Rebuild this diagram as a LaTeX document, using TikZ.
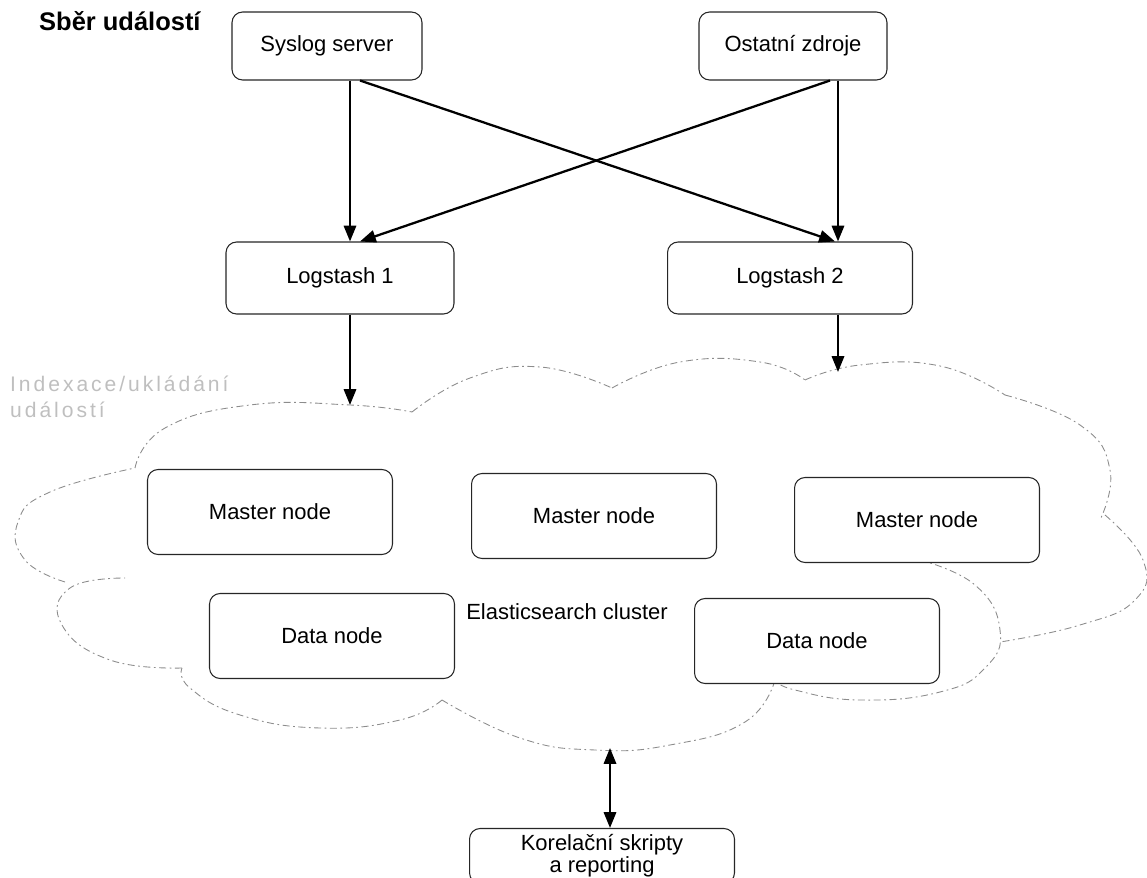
\documentclass[tikz,border=0pt]{standalone}
\usepackage{fontspec}
\setmainfont{Liberation Sans}
\newfontfamily\wideFont[LetterSpace=14]{Liberation Sans}
\usepackage{tikz}
\usetikzlibrary{calc, positioning, arrows.meta}
\tikzset{
    box/.style={rectangle, draw=black!85, line width=0.6pt, rounded corners=6pt, fill=white, align=center, minimum width=4.9cm, minimum height=1.7cm, font=\fontsize{12.5}{14}\selectfont},
    arrow/.style={-{Triangle[length=9pt, width=7pt]}, line width=1.3pt},
    darrow/.style={{Triangle[length=9pt, width=7pt]}-{Triangle[length=9pt, width=7pt]}, line width=1.3pt},
    cloudLine/.style={draw=black!45, line width=0.5pt, dash pattern=on 4pt off 2pt on 1pt off 2pt},
    heading/.style={font=\fontsize{14.5}{17}\selectfont\bfseries},
    faint/.style={text=black!25, align=left, font=\wideFont\fontsize{12}{14.5}\selectfont},
    plain/.style={font=\fontsize{12.5}{14}\selectfont}
}

\begin{document}
\begin{tikzpicture}[x=0.02cm, y=-0.02cm]
    \useasboundingbox (0,0) rectangle (1147,878);

    % Sources
    \node[heading, anchor=west] (title) at (33,21) {Sběr událostí};
    \node[box, minimum width=3.8cm, minimum height=1.36cm] (syslog) at (327,46) {Syslog server};
    \node[box, minimum width=3.76cm, minimum height=1.36cm] (other) at (793,46) {Ostatní zdroje};

    % Logstash
    \node[box, minimum width=4.56cm, minimum height=1.44cm] (ls1) at (340,278) {Logstash 1};
    \node[box, minimum width=4.9cm, minimum height=1.44cm] (ls2) at (790,278) {Logstash 2};

    % Cloud
    \draw[cloudLine] plot[smooth, tension=0.8] coordinates {(135,468) (165,428) (250,405) (350,405) (412,412)};
    \draw[cloudLine] plot[smooth, tension=0.8] coordinates {(412,412) (470,378) (540,367) (612,388)};
    \draw[cloudLine] plot[smooth, tension=0.8] coordinates {(612,388) (680,362) (760,362) (805,380)};
    \draw[cloudLine] plot[smooth, tension=0.8] coordinates {(805,380) (860,365) (940,366) (1005,395)};
    \draw[cloudLine] plot[smooth, tension=0.8] coordinates {(1005,395) (1080,425) (1110,470) (1100,520)};
    \draw[cloudLine] plot[smooth, tension=0.8] coordinates {(1105,515) (1143,560) (1135,600) (1080,625) (1000,642)};
    \draw[cloudLine] plot[smooth, tension=0.8] coordinates {(920,560) (975,585) (1000,630) (985,668) (940,692) (860,700) (795,690) (775,680)};
    \draw[cloudLine] plot[smooth, tension=0.8] coordinates {(775,680) (745,722) (670,745) (595,750) (520,738) (442,700)};
    \draw[cloudLine] plot[smooth, tension=0.8] coordinates {(442,700) (400,720) (320,728) (240,715) (190,688) (182,668)};
    \draw[cloudLine] plot[smooth, tension=0.8] coordinates {(182,668) (110,660) (62,625) (70,588) (125,578)};
    \draw[cloudLine] plot[smooth, tension=0.8] coordinates {(65,582) (25,560) (18,522) (50,492) (135,468)};
    \node[faint, anchor=north west] (idx) at (4,370) {Indexace/ukládání\\událostí};

    % Cluster nodes
    \node[box] (m1) at (270,512) {Master node};
    \node[box] (m2) at (594,516) {Master node};
    \node[box] (m3) at (917,520) {Master node};
    \node[box] (d1) at (332,636) {Data node};
    \node[box] (d2) at (817,641) {Data node};
    \node[plain] (cluster) at (567,612) {Elasticsearch cluster};

    % Reporting
    \node[box, minimum width=5.3cm, minimum height=1.1cm, font=\fontsize{12.5}{12.5}\selectfont] (korel) at (602,856) {Korelační skripty\\a reporting};

    % Connectors
    \coordinate (in1) at (350,405);
    \coordinate (in2) at (838,372);
    \coordinate (out) at (610,748);
    \draw[arrow] (syslog.south -| in1) -- (ls1.north -| in1);
    \draw[arrow] ($(syslog.south)+(33,0)$) -- ($(ls2.north)+(45,0)$);
    \draw[arrow] (other.south -| in2) -- (ls2.north -| in2);
    \draw[arrow] ($(other.south)+(37,0)$) -- ($(ls1.north)+(20,0)$);
    \draw[arrow] (ls1.south -| in1) -- (in1);
    \draw[arrow] (ls2.south -| in2) -- (in2);
    \draw[darrow] (out) -- (korel.north -| out);
\end{tikzpicture}
\end{document}
